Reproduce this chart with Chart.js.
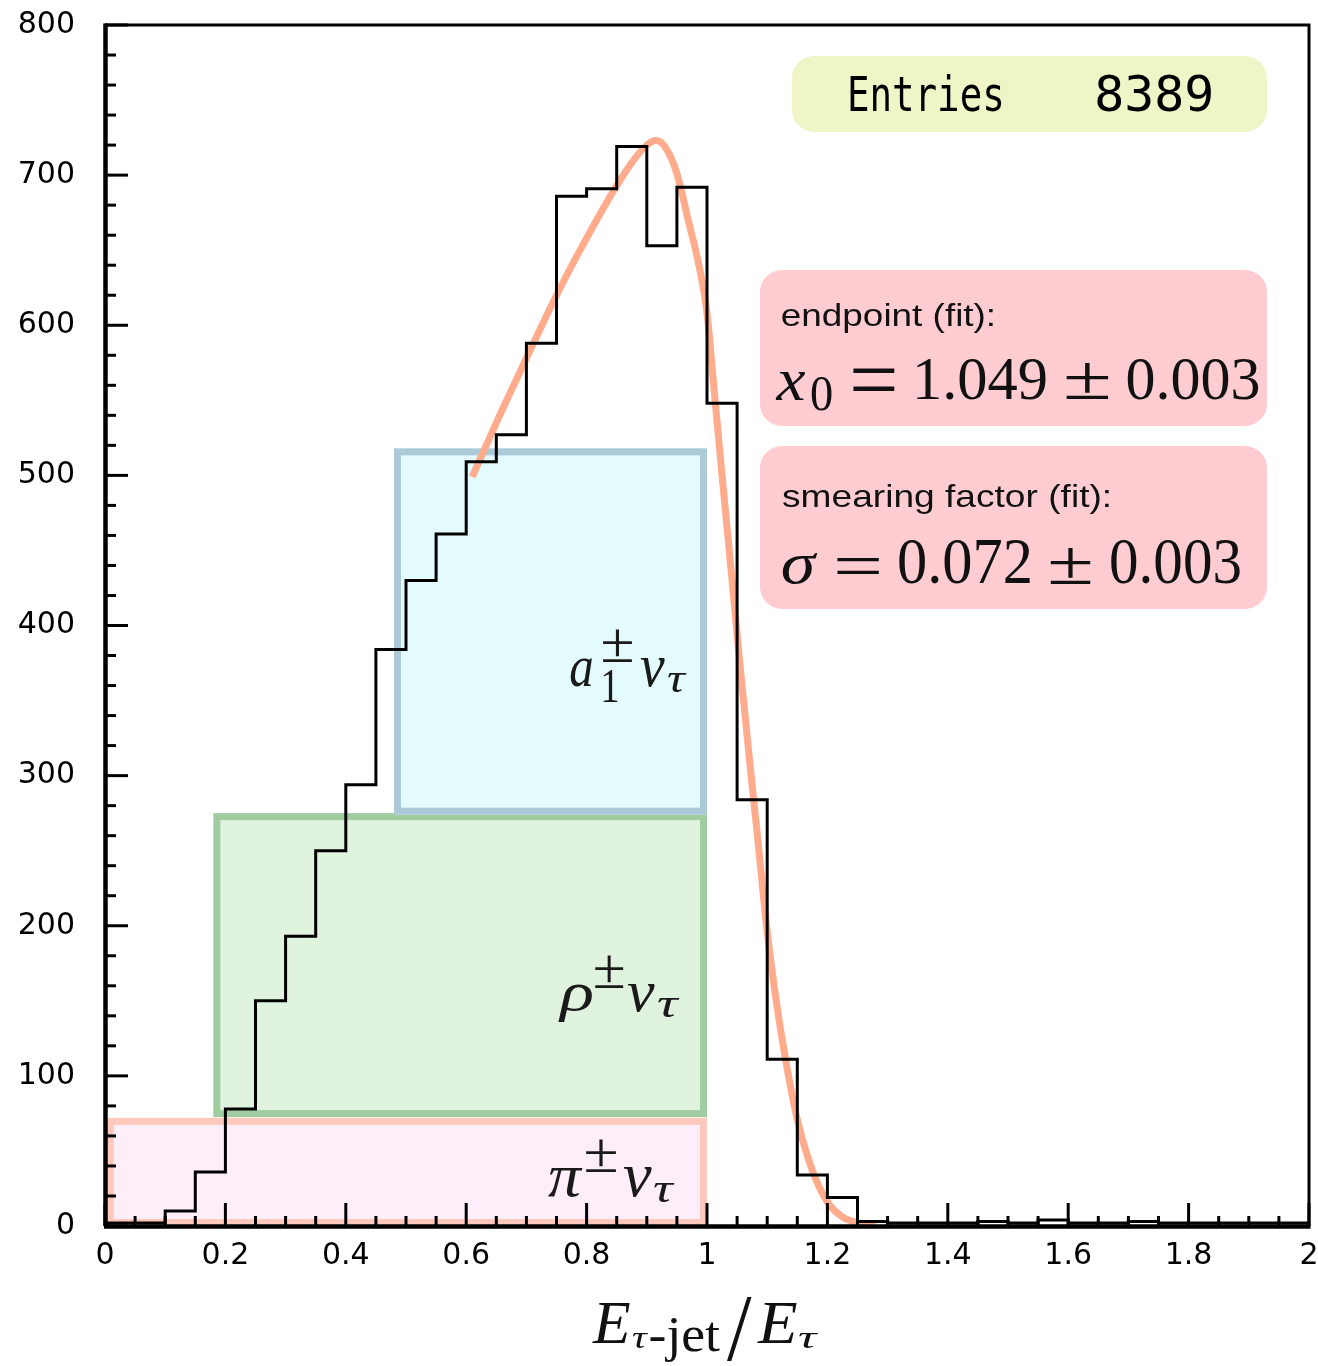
<!DOCTYPE html>
<html><head><meta charset="utf-8">
<script src="https://cdn.jsdelivr.net/npm/chart.js@4/dist/chart.umd.min.js"></script>
<style>html,body{margin:0;padding:0;background:#fff;}#c{display:block;}</style>
</head><body>
<canvas id="c" width="1318" height="1366"></canvas>
<script>
// ---------------- data ----------------
const binEdges = [0.00,0.05,0.10,0.15,0.20,0.25,0.30,0.35,0.40,0.45,0.50,0.55,0.60,0.65,0.70,0.75,0.80,0.85,0.90,0.95,
                  1.00,1.05,1.10,1.15,1.20,1.25,1.30,1.35,1.40,1.45,1.50,1.55,1.60,1.65,1.70,1.75,1.80,1.85,1.90,1.95,2.00];
const binCounts = [2,2,10,36,78,150,193,250,294,384,430,461,509,527,588,686,691,719,653,692,
                   548,284,111,34,19,3,2,2,2,3,2,4,2,2,3,2,2,2,2,2];
const fitX = [0.61,0.65,0.70,0.75,0.80,0.85,0.88,0.90,0.915,0.93,0.95,0.97,0.985,1.00,1.01,1.025,1.04,1.055,1.07,1.085,1.10,1.115,1.13,1.15,1.175,1.20,1.225,1.25,1.28];
const fitY = [499,535,578,620,658,693,711,720,723,719,701,668,643,608,565,500,437,373,313,255,196,150,112,71,37,16,6,2,0.5];
const bandX0 = [0.003, 0.180, 0.480];   // pi, rho, a1
const bandX1 = [1.000, 1.000, 1.000];
const bandY0 = [0, 72.5, 274];
const bandY1 = [72, 275, 518];
const entries = 8389;
const endpointText = ["1.049", "0.003"];
const sigmaText = ["0.072", "0.003"];
const xMin = 0, xMax = 2, yMin = 0, yMax = 800;

// ---------------- helpers ----------------
function ink(ctx, txt, font, x0, y0, x1, y1){
  ctx.save();
  ctx.font = font; ctx.textAlign = 'left'; ctx.textBaseline = 'alphabetic';
  const m = ctx.measureText(txt);
  const l = -m.actualBoundingBoxLeft, r = m.actualBoundingBoxRight;
  const t = -m.actualBoundingBoxAscent, b = m.actualBoundingBoxDescent;
  const sx = (x1-x0)/(r-l), sy = (y1-y0)/(b-t);
  ctx.translate(x0 - l*sx, y0 - t*sy);
  ctx.scale(sx, sy);
  ctx.fillText(txt, 0, 0);
  ctx.restore();
}

const histData = binEdges.map((e,i)=>({x:e, y: binCounts[Math.max(0, Math.min(i-1, binCounts.length-1))]}));
const fitData = fitX.map((x,i)=>({x:x, y:fitY[i]}));

const bandFill = ['#fdeef9', '#dff3df', '#e3fbfd'];
const bandLine = ['#ffc8bd', '#a0cda0', '#abc9d6'];

const deco = {
  id: 'deco',
  beforeDatasetsDraw(chart){
    const ctx = chart.ctx, xs = chart.scales.x, ys = chart.scales.y;
    for (let i=0;i<bandX0.length;i++){
      const x0 = xs.getPixelForValue(bandX0[i]), x1 = xs.getPixelForValue(bandX1[i]);
      const y0 = ys.getPixelForValue(bandY1[i]), y1 = ys.getPixelForValue(bandY0[i]);
      ctx.save();
      ctx.fillStyle = bandFill[i];
      ctx.fillRect(x0, y0, x1-x0, y1-y0);
      ctx.strokeStyle = bandLine[i]; ctx.lineWidth = 7;
      ctx.strokeRect(x0+3.5, y0+3.5, x1-x0-7, y1-y0-7);
      ctx.restore();
    }
  },
  afterDatasetsDraw(chart){
    const ctx = chart.ctx, a = chart.chartArea, xs = chart.scales.x, ys = chart.scales.y;
    ctx.save();
    ctx.strokeStyle = '#000';
    ctx.lineWidth = 3;
    ys.ticks.forEach((t,k)=>{
      const p = ys.getPixelForValue(t.value);
      ctx.beginPath(); ctx.moveTo(a.left, p); ctx.lineTo(a.left+23, p); ctx.stroke();
      if (k < ys.ticks.length-1){
        const step = (ys.ticks[k+1].value - t.value)/5;
        for (let j=1;j<5;j++){
          const q = ys.getPixelForValue(t.value + j*step);
          ctx.beginPath(); ctx.moveTo(a.left, q); ctx.lineTo(a.left+11, q); ctx.stroke();
        }
      }
    });
    xs.ticks.forEach((t,k)=>{
      const p = xs.getPixelForValue(t.value);
      ctx.beginPath(); ctx.moveTo(p, a.bottom); ctx.lineTo(p, a.bottom-23); ctx.stroke();
      if (k < xs.ticks.length-1){
        const step = (xs.ticks[k+1].value - t.value)/4;
        for (let j=1;j<4;j++){
          const q = xs.getPixelForValue(t.value + j*step);
          ctx.beginPath(); ctx.moveTo(q, a.bottom); ctx.lineTo(q, a.bottom-10); ctx.stroke();
        }
      }
    });
    ctx.lineWidth = 3;
    ctx.beginPath(); ctx.moveTo(a.left, a.top); ctx.lineTo(a.right, a.top); ctx.lineTo(a.right, a.bottom); ctx.stroke();
    ctx.lineWidth = 4.5;
    ctx.beginPath(); ctx.moveTo(a.left+0.5, a.top-1.5); ctx.lineTo(a.left+0.5, a.bottom); ctx.stroke();
    ctx.beginPath(); ctx.moveTo(a.left-1, a.bottom+0.5); ctx.lineTo(a.right+1.5, a.bottom+0.5); ctx.stroke();
    ctx.restore();
  },
  afterDraw(chart){
    const ctx = chart.ctx;
    ctx.save();
    ctx.fillStyle = '#f0f5c8';
    ctx.beginPath(); ctx.roundRect(792, 56, 475, 76, 22); ctx.fill();
    ctx.fillStyle = '#000';
    ink(ctx, 'Entries', '36px "DejaVu Sans Mono"', 850, 74, 1002, 112);
    ink(ctx, String(entries), '36px "DejaVu Sans Mono"', 1097, 75, 1212, 112);
    ctx.fillStyle = '#ffcdd1';
    ctx.beginPath(); ctx.roundRect(760, 270, 507, 156, 22); ctx.fill();
    ctx.beginPath(); ctx.roundRect(760, 446, 507, 163, 22); ctx.fill();
    ctx.fillStyle = '#111';
    ink(ctx, 'endpoint (fit):', '31px "Liberation Sans"', 782, 302.5, 993, 333);
    ink(ctx, 'x', 'italic 60px "Liberation Serif"', 775.5, 372, 806, 400);
    ink(ctx, '0', '42px "Liberation Serif"', 811, 376, 832, 410);
    ink(ctx, '=', '60px "Liberation Serif"', 852, 369, 894.5, 391);
    ink(ctx, endpointText[0], '60px "Liberation Serif"', 917, 358.6, 1046, 400);
    ink(ctx, '\u00B1', '60px "Liberation Serif"', 1066, 363, 1109, 399);
    ink(ctx, endpointText[1], '60px "Liberation Serif"', 1127.5, 358.6, 1258.5, 400);

    ink(ctx, 'smearing factor (fit):', '31px "Liberation Sans"', 782, 484, 1109, 513.5);
    ink(ctx, '\u03C3', 'italic 60px "Liberation Serif"', 782, 553, 818, 584);
    ink(ctx, '=', '60px "Liberation Serif"', 836, 558, 879, 574);
    ink(ctx, sigmaText[0], '60px "Liberation Serif"', 899, 541, 1030, 584);
    ink(ctx, '\u00B1', '60px "Liberation Serif"', 1050, 548, 1091, 584);
    ink(ctx, sigmaText[1], '60px "Liberation Serif"', 1111, 541, 1240, 584);

    ctx.fillStyle = '#1a1a1a';
    const it = 'italic 60px "Liberation Serif"', up = '44px "Liberation Serif"', itS = 'italic 40px "Liberation Serif"';
    ink(ctx, 'a', it, 570, 658, 592, 687);
    ink(ctx, '\u00B1', up, 602, 630, 633, 662);
    ink(ctx, '1', up, 603, 670, 618, 702);
    ink(ctx, '\u03BD', it, 640, 658, 665, 687);
    ink(ctx, '\u03C4', itS, 667, 673, 687, 692);

    ink(ctx, '\u03C1', it, 558, 985, 592, 1022);
    ink(ctx, '\u00B1', up, 594, 956, 624, 988);
    ink(ctx, '\u03BD', it, 627, 984, 655, 1012);
    ink(ctx, '\u03C4', itS, 657, 998, 680, 1017);

    ink(ctx, '\u03C0', it, 548, 1168, 583, 1197);
    ink(ctx, '\u00B1', up, 585, 1140, 617, 1172);
    ink(ctx, '\u03BD', it, 623, 1167, 652, 1197);
    ink(ctx, '\u03C4', itS, 653, 1183, 675, 1202);

    ctx.fillStyle = '#111';
    ink(ctx, 'E', 'italic 60px "Liberation Serif"', 592, 1303, 630, 1343);
    ink(ctx, '\u03C4', 'italic 36px "Liberation Serif"', 632, 1333, 648, 1348);
    ink(ctx, '-jet', '36px "Liberation Serif"', 650, 1317, 720, 1362);
    ink(ctx, '/', '60px "Liberation Serif"', 727, 1298, 752, 1362);
    ink(ctx, 'E', 'italic 60px "Liberation Serif"', 757, 1303, 797, 1343);
    ink(ctx, '\u03C4', 'italic 36px "Liberation Serif"', 798, 1333, 818, 1348);
    ctx.restore();
  }
};

function noPad(s){ s.paddingLeft = 0; s.paddingRight = 0; s.paddingTop = 0; s.paddingBottom = 0; }

new Chart(document.getElementById('c'), {
  type: 'line',
  data: {
    datasets: [
      { label: 'hist', data: histData, stepped: 'after', borderColor: '#000', borderWidth: 3,
        pointRadius: 0, fill: false, order: 0 },
      { label: 'fit', data: fitData, borderColor: '#ffab8c', borderWidth: 7, pointRadius: 0,
        cubicInterpolationMode: 'monotone', fill: false, order: 1, borderCapStyle: 'butt' }
    ]
  },
  options: {
    responsive: false, animation: false, devicePixelRatio: 1,
    layout: { padding: { left: 0, top: 25, right: 9, bottom: 0 } },
    plugins: { legend: { display: false }, tooltip: { enabled: false } },
    scales: {
      x: { type: 'linear', min: xMin, max: xMax,
           grid: { display: false, drawTicks: false }, border: { display: false },
           ticks: { stepSize: 0.2, padding: 12, color: '#000', maxRotation: 0, autoSkip: false,
                    font: { family: 'DejaVu Sans', size: 30 },
                    callback: v => String(Number(v.toFixed(1))) },
           afterFit: s => { s.height = 140; noPad(s); } },
      y: { type: 'linear', min: yMin, max: yMax,
           grid: { display: false, drawTicks: false }, border: { display: false },
           ticks: { stepSize: 100, padding: 30, color: '#000',
                    font: { family: 'DejaVu Sans', size: 30 } },
           afterFit: s => { s.width = 105; noPad(s); } }
    }
  },
  plugins: [deco]
});
</script>
</body></html>
